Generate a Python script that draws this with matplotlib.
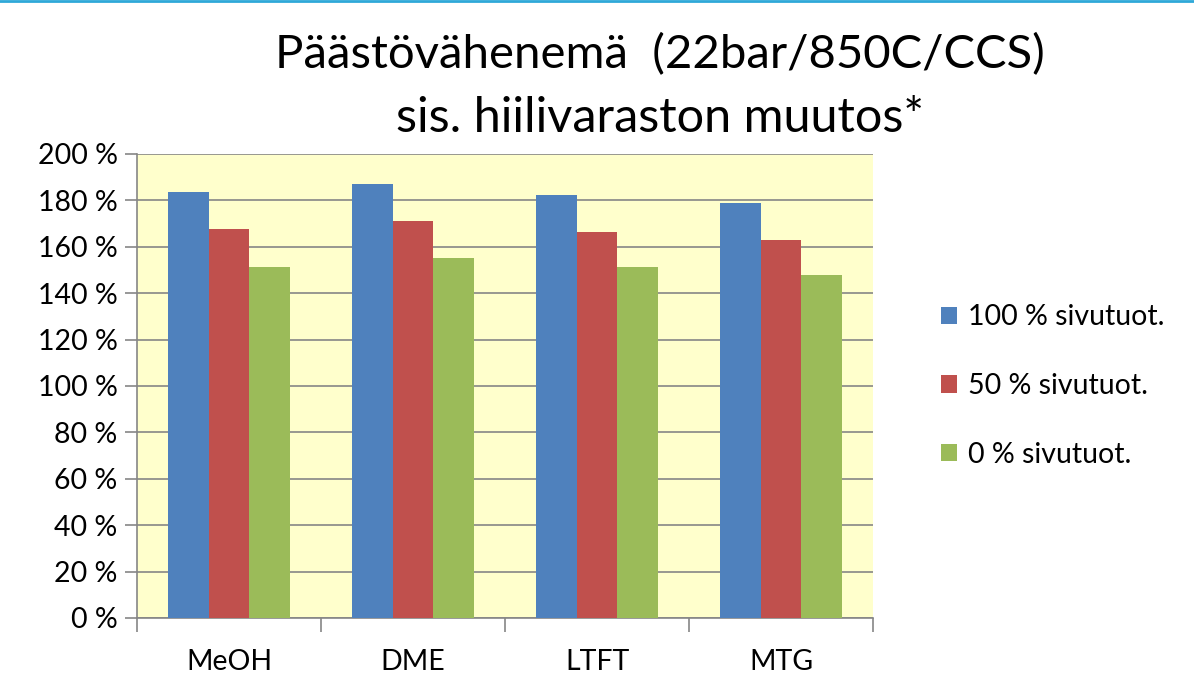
import numpy as np
import matplotlib
matplotlib.use("Agg")
import matplotlib.pyplot as plt
from matplotlib.lines import Line2D

plt.rcParams['font.family'] = ['Lato', 'DejaVu Sans']

categories = ["MeOH", "DME", "LTFT", "MTG"]
series_names = ["100 % sivutuot.", "50 % sivutuot.", "0 % sivutuot."]
vals_100 = [183.6, 187.1, 182.3, 178.9]
vals_50 = [167.7, 171.1, 166.4, 163.0]
vals_0 = [151.3, 155.2, 151.3, 147.8]
colors = ["#4F81BD", "#C0504D", "#9BBB59"]
yticks = list(range(0, 201, 20))
ytick_labels = [f"{v} %" for v in yticks]

fig = plt.figure(figsize=(11.94, 6.91), dpi=100)
ax = fig.add_axes([137 / 1194, 1 - 618 / 691, (873 - 137) / 1194, (618 - 154) / 691])
ax.set_facecolor("#FFFFCC")

x = np.arange(len(categories))
w = 0.222
for i, (vals, c, name) in enumerate(zip([vals_100, vals_50, vals_0], colors, series_names)):
    ax.bar(x + (i - 1) * w, vals, width=w, color=c, label=name, zorder=3)

ax.set_xlim(-0.5, len(categories) - 0.5)
ax.set_ylim(0, 200)
ax.set_yticks(yticks)
ax.set_yticklabels(ytick_labels, fontsize=20.5)
ax.yaxis.grid(True, color="#868686", linewidth=1.2, zorder=1)
ax.tick_params(axis="y", length=9, color="#868686", width=1.2, pad=5)

ax.set_xticks(x)
ax.set_xticklabels(categories, fontsize=20.5)
ax.tick_params(axis="x", length=0, pad=22)
ax.set_xticks(np.arange(-0.5, len(categories)), minor=True)
ax.tick_params(axis="x", which="minor", length=10, color="#868686", width=1.2)

for s in ["top", "right"]:
    ax.spines[s].set_visible(False)
ax.spines["left"].set_color("#868686")
ax.spines["left"].set_linewidth(1.2)
ax.spines["bottom"].set_color("#868686")
ax.spines["bottom"].set_linewidth(1.2)

fig.text(0.553, 1 - 55 / 691, "Päästövähenemä  (22bar/850C/CCS)", fontsize=34,
         ha="center", va="center")
fig.text(0.553, 1 - 118 / 691, "sis. hiilivaraston muutos*", fontsize=35,
         ha="center", va="center")

ax.legend(loc="center left", bbox_to_anchor=(1.058, 0.5), frameon=False, fontsize=20.5,
          handlelength=0.55, handleheight=0.55, handletextpad=0.4, labelspacing=1.5)

fig.add_artist(Line2D([0, 1], [0.999, 0.999], color="#2EA8D8", linewidth=2,
                      transform=fig.transFigure))

fig.savefig("out.png", dpi=100)
